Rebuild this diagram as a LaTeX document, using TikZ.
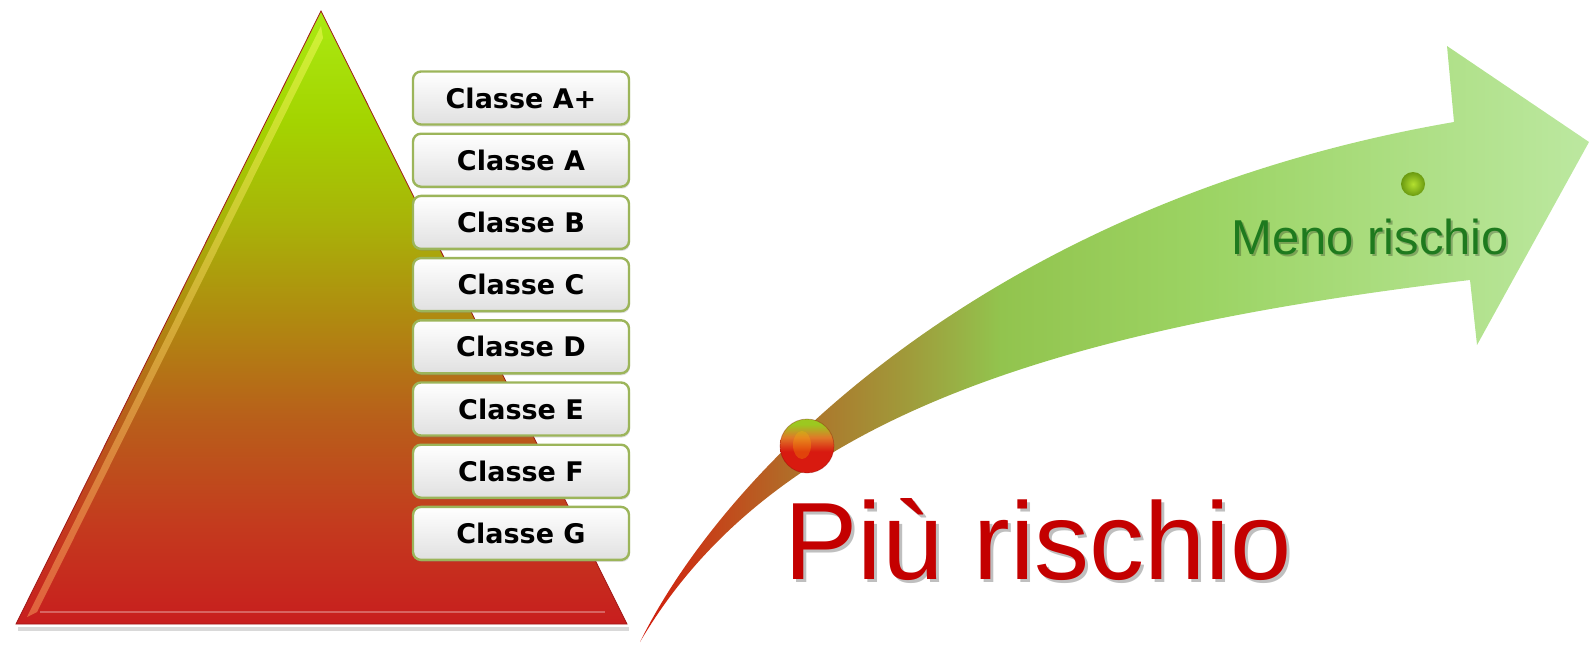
\documentclass[tikz,border=0pt]{standalone}
\usepackage{fontspec}
\setmainfont{Liberation Sans}
\newfontfamily\boxfont{DejaVu Sans}
\usetikzlibrary{shadows}
\definecolor{triA}{HTML}{C81E1E}
\definecolor{triB}{HTML}{C43A1E}
\definecolor{triC}{HTML}{B8601A}
\definecolor{triD}{HTML}{B08A10}
\definecolor{triE}{HTML}{A8B408}
\definecolor{triF}{HTML}{A4D400}
\definecolor{triG}{HTML}{AAEA12}
\definecolor{arA}{HTML}{D21A0C}
\definecolor{arB}{HTML}{C4461A}
\definecolor{arC}{HTML}{AE722A}
\definecolor{arD}{HTML}{A09A3A}
\definecolor{arE}{HTML}{92C44E}
\definecolor{arF}{HTML}{9CD464}
\definecolor{arG}{HTML}{BCE8A0}
\definecolor{boxborder}{HTML}{9CB55A}
\definecolor{piured}{HTML}{C40000}
\definecolor{menogreen}{HTML}{1E7A1E}
\definecolor{ballG}{HTML}{9CC820}
\definecolor{ballO}{HTML}{E07828}
\definecolor{ballR}{HTML}{D81A10}
\definecolor{gballIn}{HTML}{B4E030}
\definecolor{gballOut}{HTML}{6A9A10}
\pgfdeclareverticalshading{trishade}{100bp}{color(0bp)=(triA); color(25bp)=(triA); color(33bp)=(triB); color(42bp)=(triC); color(50bp)=(triD); color(58bp)=(triE); color(66bp)=(triF); color(75bp)=(triG); color(100bp)=(triG)}
\pgfdeclarehorizontalshading{arrshade}{100bp}{color(0bp)=(arA); color(25bp)=(arA); color(29bp)=(arB); color(33.5bp)=(arC); color(39bp)=(arD); color(44bp)=(arE); color(55bp)=(arF); color(75bp)=(arG); color(100bp)=(arG)}
\pgfdeclareverticalshading{redball}{100bp}{color(0bp)=(ballR); color(25bp)=(ballR); color(45bp)=(ballR); color(58bp)=(ballO); color(70bp)=(ballG); color(75bp)=(ballG); color(100bp)=(ballG)}
\tikzset{
  clsbox/.style={draw=boxborder, line width=2.4pt, rounded corners=8pt,
    top color=white, bottom color=black!12, minimum width=216pt, minimum height=53pt,
    inner sep=0pt, font=\boxfont\bfseries\fontsize{27}{30}\selectfont, text=black,
    drop shadow={opacity=0.25, shadow xshift=1pt, shadow yshift=-2pt}},
  bigtext/.style={anchor=base west, inner sep=0pt, font=\fontsize{110}{110}\selectfont},
  medtext/.style={anchor=base west, inner sep=0pt, font=\fontsize{49}{49}\selectfont},
  txtshadow/.style={text=black, opacity=0.25}
}
\begin{document}
\begin{tikzpicture}[x=1pt,y=-1pt]
\useasboundingbox (0,0) rectangle (1592,645);
% triangle
\fill[black, opacity=0.15] (18,627) -- (629,627) -- (629,631) -- (18,631) -- cycle;
\shade[shading=trishade, draw=triA!80!black, line width=0.8pt] (16,624) -- (321,11) -- (627,624) -- cycle;
\shade[top color=yellow!60!white, bottom color=orange!60!white, opacity=0.45]
  (27,617) -- (321,26) -- (323,38) -- (37,612) -- cycle;
\draw[white, opacity=0.3, line width=2pt] (40,612) -- (605,612);
% boxes
\node[clsbox] (cAp) at (521,98)   {Classe A+};
\node[clsbox] (cA)  at (521,160.2) {Classe A};
\node[clsbox] (cB)  at (521,222.4) {Classe B};
\node[clsbox] (cC)  at (521,284.6) {Classe C};
\node[clsbox] (cD)  at (521,346.8) {Classe D};
\node[clsbox] (cE)  at (521,409)   {Classe E};
\node[clsbox] (cF)  at (521,471.2) {Classe F};
\node[clsbox] (cG)  at (521,533.4) {Classe G};
% arrow
\shade[shading=arrshade]
  (640,642) .. controls (730,460) and (1000,200) .. (1454,122)
  -- (1447,46) -- (1589,142) -- (1477,345) -- (1470,280)
  .. controls (1050,330) and (770,420) .. (640,642) -- cycle;
% red ball
\shade[shading=redball] (807,446) circle[radius=27pt];
\fill[orange!50!yellow, opacity=0.25] (802,445) ellipse[x radius=9pt, y radius=14pt];
\draw[red!50!black, opacity=0.3, line width=0.8pt] (807,446) circle[radius=27pt];
% green ball
\shade[inner color=gballIn, outer color=gballOut] (1413,184) circle[radius=12pt];
% texts
\node[bigtext, txtshadow] (piush) at (787,582) {Più rischio};
\node[bigtext, text=piured] (piu) at (784,579) {Più rischio};
\node[medtext, txtshadow] (menosh) at (1233,256) {Meno rischio};
\node[medtext, text=menogreen] (meno) at (1231,254) {Meno rischio};
\end{tikzpicture}
\end{document}
